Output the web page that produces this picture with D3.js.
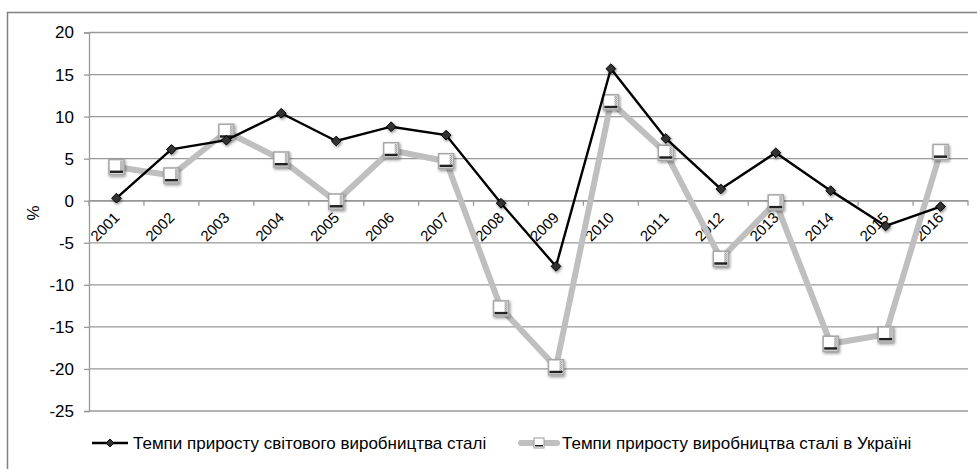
<!DOCTYPE html>
<html>
<head>
<meta charset="utf-8">
<script src="https://cdn.jsdelivr.net/npm/d3@7"></script>
<style>
  body { margin: 0; background: #fff; }
  svg { font-family: "Liberation Sans", Arial, sans-serif; }
</style>
</head>
<body>
<svg id="chart" width="977" height="469"></svg>
<script>
// data
var years = ["2001","2002","2003","2004","2005","2006","2007","2008","2009","2010","2011","2012","2013","2014","2015","2016"]
var world = [0.3, 6.1, 7.2, 10.4, 7.1, 8.8, 7.8, -0.3, -7.8, 15.7, 7.4, 1.4, 5.7, 1.2, -3.0, -0.7]
var ukraine = [4.0, 3.0, 8.2, 4.9, -0.1, 6.0, 4.7, -12.8, -19.8, 11.7, 5.7, -6.9, -0.2, -17.0, -15.9, 5.8]
var yTicks = [20, 15, 10, 5, 0, -5, -10, -15, -20, -25]
var worldName = "Темпи приросту світового виробництва сталі"
var ukraineName = "Темпи приросту виробництва сталі в Україні"

var dims = { width: 977, height: 469, left: 89, right: 968, top: 32.5, bottom: 411 }

var svg = d3.select("#chart")

var defs = svg.append("defs")
var shadow = defs.append("filter").attr("id", "shadow")
    .attr("x", "-50%").attr("y", "-50%").attr("width", "200%").attr("height", "200%")
shadow.append("feDropShadow").attr("dx", 1).attr("dy", 1.5).attr("stdDeviation", 1.5)
    .attr("flood-color", "#000").attr("flood-opacity", 0.45)
var checker = defs.append("pattern").attr("id", "checker")
    .attr("width", 2).attr("height", 2).attr("patternUnits", "userSpaceOnUse")
checker.append("rect").attr("width", 2).attr("height", 2).attr("fill", "#fff")
checker.append("rect").attr("width", 1).attr("height", 1).attr("fill", "#777")
checker.append("rect").attr("x", 1).attr("y", 1).attr("width", 1).attr("height", 1).attr("fill", "#777")

// outer frame
svg.append("path")
   .attr("d", "M7.5,469 L7.5,12.5 L977,12.5")
   .attr("fill", "none").attr("stroke", "#808080").attr("stroke-width", 1.5)

var xScale = d3.scaleBand().domain(years).range([dims.left, dims.right])
var yScale = d3.scaleLinear().domain([-25, 20]).range([dims.bottom, dims.top])
var cx = d => xScale(d) + xScale.bandwidth() / 2

// gridlines
svg.append("g").selectAll("line").data(yTicks).enter().append("line")
   .attr("x1", dims.left).attr("x2", dims.right)
   .attr("y1", d => yScale(d)).attr("y2", d => yScale(d))
   .attr("stroke", "#999").attr("stroke-width", 1.3)

// y axis
var yAxis = svg.append("g")
   .attr("transform", `translate(${dims.left},0)`)
   .call(d3.axisLeft(yScale).tickValues(yTicks).tickSize(5).tickPadding(10)
          .tickFormat(d => String(d)))
yAxis.select(".domain").attr("stroke", "#999").attr("stroke-width", 1.3)
yAxis.selectAll(".tick line").attr("stroke", "#999").attr("stroke-width", 1.3)
yAxis.selectAll("text").attr("font-size", 17).attr("fill", "#000")
   .attr("font-family", "Liberation Sans, Arial, sans-serif")

svg.append("g").attr("transform", "translate(39,213)")
   .append("g").attr("transform", "rotate(-90)")
   .append("text")
   .attr("text-anchor", "middle")
   .attr("font-size", 17)
   .text("%")

// x axis at zero
var xAxis = svg.append("g")
   .attr("transform", `translate(0,${yScale(0)})`)
   .call(d3.axisBottom(xScale).tickSize(0).tickFormat(""))
xAxis.select(".domain").attr("stroke", "#999").attr("stroke-width", 1.3)

// year labels at -45deg, glyphs placed one by one along the diagonal
var labSize = 15
var adv = 0.556 * labSize
var c45 = Math.SQRT1_2
svg.append("g").selectAll("text").data(years).enter().append("text")
   .attr("font-size", labSize)
   .attr("rotate", -45)
   .attr("x", function(d){
       var ex = cx(d) + 4, L = adv * d.length
       return d3.range(d.length).map(i => (ex - L * c45 + i * adv * c45).toFixed(2)).join(" ")
   })
   .attr("y", function(d){
       var ey = yScale(0) + 18, L = adv * d.length
       return d3.range(d.length).map(i => (ey + L * c45 - i * adv * c45).toFixed(2)).join(" ")
   })
   .text(d => d)

// boundary tick marks between categories
svg.append("g").selectAll("line")
   .data(years.map(d => xScale(d)).concat([dims.right]))
   .enter().append("line")
   .attr("x1", d => d).attr("x2", d => d)
   .attr("y1", yScale(0)).attr("y2", yScale(0) + 5)
   .attr("stroke", "#999").attr("stroke-width", 1.3)

// Ukraine series
var line = d3.line().x((d, i) => cx(years[i])).y(d => yScale(d))
svg.append("path").datum(ukraine)
   .attr("d", line)
   .attr("fill", "none").attr("stroke", "#bfbfbf").attr("stroke-width", 6)
   .attr("stroke-linejoin", "round")

function squareMarker(g, x, y, s) {
    var m = g.append("g").attr("transform", `translate(${x},${y})`)
    m.append("rect").attr("x", -s/2).attr("y", -s/2).attr("width", s).attr("height", s)
     .attr("fill", "#fff").attr("stroke", "#a6a6a6").attr("stroke-width", 1.5)
     .attr("filter", "url(#shadow)")
    m.append("rect").attr("x", s/2 - 4).attr("y", -s/2 + 1).attr("width", 3).attr("height", s - 4)
     .attr("fill", "url(#checker)")
    m.append("rect").attr("x", -s/2 + 1).attr("y", s/2 - 4).attr("width", s - 2).attr("height", 2.5)
     .attr("fill", "#222")
}

var ukrMarks = svg.append("g")
ukraine.forEach(function(v, i){ squareMarker(ukrMarks, cx(years[i]), yScale(v), 15) })

// world series
svg.append("path").datum(world)
   .attr("d", line)
   .attr("fill", "none").attr("stroke", "#000").attr("stroke-width", 2.4)

svg.append("g").selectAll("path").data(world).enter().append("path")
   .attr("d", d3.symbol().type(d3.symbolDiamond2).size(60))
   .attr("transform", (d, i) => `translate(${cx(years[i])},${yScale(d)})`)
   .attr("fill", "#333").attr("stroke", "#000").attr("stroke-width", 1)
   .attr("filter", "url(#shadow)")

// legend
var legY = 443
var leg = svg.append("g")
leg.append("line").attr("x1", 92).attr("x2", 128).attr("y1", legY).attr("y2", legY)
   .attr("stroke", "#000").attr("stroke-width", 2.4)
leg.append("path").attr("d", d3.symbol().type(d3.symbolDiamond2).size(40))
   .attr("transform", `translate(110,${legY})`).attr("fill", "#333").attr("stroke", "#000")
leg.append("text").attr("x", 133).attr("y", legY + 6).attr("font-size", 17).text(worldName)

leg.append("line").attr("x1", 521).attr("x2", 557).attr("y1", legY).attr("y2", legY)
   .attr("stroke", "#bfbfbf").attr("stroke-width", 6).attr("stroke-linecap", "round")
var lm = leg.append("g").attr("transform", `translate(539,${legY})`)
lm.append("rect").attr("x", -5).attr("y", -5).attr("width", 10).attr("height", 10)
  .attr("fill", "#fff").attr("stroke", "#999")
lm.append("rect").attr("x", -4).attr("y", 2).attr("width", 8).attr("height", 1.5).attr("fill", "#222")
leg.append("text").attr("x", 562).attr("y", legY + 6).attr("font-size", 17).text(ukraineName)
</script>
</body>
</html>
